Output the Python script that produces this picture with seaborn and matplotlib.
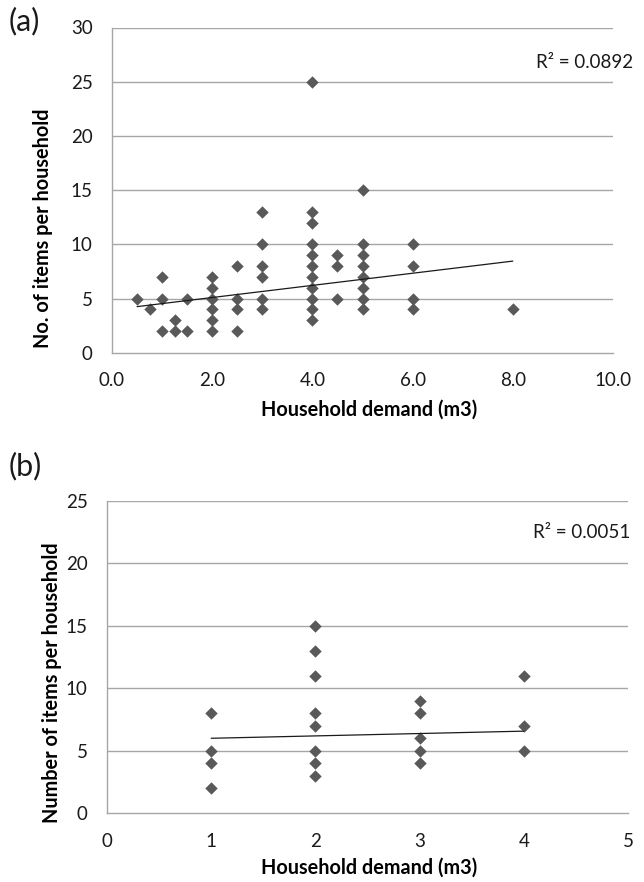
import matplotlib
matplotlib.use("Agg")
import matplotlib.pyplot as plt
import seaborn as sns
import pandas as pd

# ---- Panel (a) data ----
demand_a = [0.5, 0.75, 1.0, 1.0, 1.0, 1.25, 1.25, 1.5, 1.5,
            2.0, 2.0, 2.0, 2.0, 2.0, 2.0,
            2.5, 2.5, 2.5, 2.5,
            3.0, 3.0, 3.0, 3.0, 3.0, 3.0,
            4.0, 4.0, 4.0, 4.0, 4.0, 4.0, 4.0, 4.0, 4.0, 4.0, 4.0,
            4.5, 4.5, 4.5,
            5.0, 5.0, 5.0, 5.0, 5.0, 5.0, 5.0, 5.0,
            6.0, 6.0, 6.0, 6.0,
            8.0]
items_a = [5, 4, 7, 5, 2, 3, 2, 5, 2,
           7, 6, 5, 4, 3, 2,
           8, 5, 4, 2,
           13, 10, 8, 7, 5, 4,
           25, 13, 12, 10, 9, 8, 7, 6, 5, 4, 3,
           9, 8, 5,
           15, 10, 9, 8, 7, 6, 5, 4,
           10, 8, 5, 4,
           4]
trend_a_x = [0.5, 8.0]
trend_a_y = [4.25, 8.45]
r2_a = "R² = 0.0892"
xticks_a = [0, 2, 4, 6, 8, 10]
xticklabels_a = ["0.0", "2.0", "4.0", "6.0", "8.0", "10.0"]
yticks_a = [0, 5, 10, 15, 20, 25, 30]

# ---- Panel (b) data ----
demand_b = [1, 1, 1, 1,
            2, 2, 2, 2, 2, 2, 2, 2,
            3, 3, 3, 3, 3,
            4, 4, 4]
items_b = [8, 5, 4, 2,
           15, 13, 11, 8, 7, 5, 4, 3,
           9, 8, 6, 5, 4,
           11, 7, 5]
trend_b_x = [1, 4]
trend_b_y = [6.0, 6.57]
r2_b = "R² = 0.0051"
xticks_b = [0, 1, 2, 3, 4, 5]
yticks_b = [0, 5, 10, 15, 20, 25]

df_a = pd.DataFrame({"demand": demand_a, "items": items_a})
df_b = pd.DataFrame({"demand": demand_b, "items": items_b})
tr_a = pd.DataFrame({"x": trend_a_x, "y": trend_a_y})
tr_b = pd.DataFrame({"x": trend_b_x, "y": trend_b_y})

sns.set_theme(style="white")
plt.rcParams["font.family"] = ["Lato", "DejaVu Sans"]

FONT = 13.5
LFONT = 14.3
MARK = "#595959"
GRID = "#a6a6a6"
TXT = "#1a1a1a"

fig = plt.figure(figsize=(6.44, 8.82), dpi=100)
ax_a = fig.add_axes([112/644, 1 - 352.7/882, (613-112)/644, (352.7-27.5)/882])
ax_b = fig.add_axes([107/644, 1 - 813.3/882, (628-107)/644, (813.3-500.7)/882])


def style(ax, xlim, ylim, xticks, yticks, xlabels, xlabel, ylabel, xl_pos, yl_pos):
    ax.set_xlim(*xlim)
    ax.set_ylim(*ylim)
    ax.set_xticks(xticks)
    ax.set_xticklabels(xlabels, fontsize=FONT, color=TXT)
    ax.set_yticks(yticks)
    ax.set_yticklabels([str(v) for v in yticks], fontsize=FONT, color=TXT)
    ax.tick_params(axis="both", length=0, pad=14)
    for s in ["top", "right"]:
        ax.spines[s].set_visible(False)
    for s in ["left", "bottom"]:
        ax.spines[s].set_color(GRID)
        ax.spines[s].set_linewidth(1.0)
    ax.grid(False)
    for v in yticks[1:]:
        ax.axhline(v, color=GRID, lw=1.0, zorder=0)
    ax.set_xlabel(xlabel, fontsize=LFONT, fontweight="bold", color="#000000")
    ax.set_ylabel(ylabel, fontsize=LFONT, fontweight="bold", color="#000000")
    ax.xaxis.set_label_coords(*xl_pos)
    ax.yaxis.set_label_coords(*yl_pos)


sns.scatterplot(data=df_a, x="demand", y="items", ax=ax_a, marker="D",
                s=40, color=MARK, edgecolor=MARK, linewidth=0, zorder=3)
sns.lineplot(data=tr_a, x="x", y="y", ax=ax_a, color="#1a1a1a", lw=0.9, zorder=4)
style(ax_a, (0, 10), (0, 30), xticks_a, yticks_a, xticklabels_a,
      "Household demand (m3)", "No. of items per household",
      (0.513, -0.145), (-0.118, 0.383))

sns.scatterplot(data=df_b, x="demand", y="items", ax=ax_b, marker="D",
                s=40, color=MARK, edgecolor=MARK, linewidth=0, zorder=3)
sns.lineplot(data=tr_b, x="x", y="y", ax=ax_b, color="#1a1a1a", lw=0.9, zorder=4)
style(ax_b, (0, 5), (0, 25), xticks_b, yticks_b, [str(v) for v in xticks_b],
      "Household demand (m3)", "Number of items per household",
      (0.503, -0.142), (-0.087, 0.417))

fig.text(633/644, 1 - 62/882, r2_a, ha="right", va="center", fontsize=FONT, color=TXT)
fig.text(630/644, 1 - 533/882, r2_b, ha="right", va="center", fontsize=FONT, color=TXT)
fig.text(9/644, 1 - 21/882, "(a)", ha="left", va="center", fontsize=22, color=TXT)
fig.text(9/644, 1 - 466/882, "(b)", ha="left", va="center", fontsize=22, color=TXT)

fig.savefig("out.png", dpi=100, facecolor="white")
